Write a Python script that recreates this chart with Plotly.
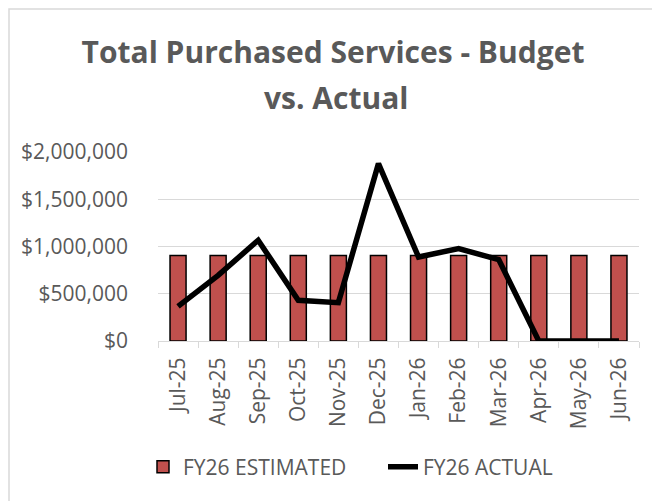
import plotly.graph_objects as go

months = ["Jul-25", "Aug-25", "Sep-25", "Oct-25", "Nov-25", "Dec-25",
          "Jan-26", "Feb-26", "Mar-26", "Apr-26", "May-26", "Jun-26"]
estimated = [905000] * 12
actual = [367000, 695000, 1066000, 430000, 406000, 1877000,
          889000, 978000, 861000, 0, 0, 0]
title_lines = ["Total Purchased Services - Budget", "vs. Actual"]

FONT = "Open Sans"
GRAY = "#595959"
GRID = "#D9D9D9"

fig = go.Figure()
fig.add_trace(go.Bar(
    x=months, y=estimated, name="FY26 ESTIMATED",
    marker=dict(color="#C0504D", line=dict(color="black", width=1.5)),
    width=0.4,
))
fig.add_trace(go.Scatter(
    x=months, y=actual, name="FY26 ACTUAL", mode="lines",
    line=dict(color="black", width=5.5),
))

# the page has an 8px body margin; work in page pixels and shift
OFF = 8
W, H = 660 - OFF, 501 - OFF
L, R, T, B = 158 - OFF, 21, 152 - OFF, 160
pw = W - L - R
ph = H - T - B

def px_x(x):
    return (x - OFF - L) / pw

def px_y(y):
    return (H - B - (y - OFF)) / ph

fig.update_layout(
    width=W, height=H,
    margin=dict(l=L, r=R, t=T, b=B, autoexpand=False),
    paper_bgcolor="white", plot_bgcolor="white",
    font=dict(family=FONT, color=GRAY, size=21),
    title=dict(
        text="<b>" + title_lines[0] + "</b>",
        x=(333 - OFF) / W, xanchor="center", xref="container",
        y=1 - (52 - OFF) / H, yanchor="middle", yref="container",
        font=dict(family=FONT, size=30, color=GRAY),
    ),
    annotations=[dict(
        text="<b>" + title_lines[1] + "</b>", showarrow=False,
        xref="paper", yref="paper", x=px_x(336), y=px_y(97),
        xanchor="center", yanchor="middle",
        font=dict(family=FONT, size=30, color=GRAY),
    )],
    showlegend=True,
    legend=dict(
        orientation="h", x=px_x(143), xanchor="left",
        y=px_y(467), yanchor="middle",
        font=dict(family=FONT, size=21, color=GRAY),
        bgcolor="rgba(0,0,0,0)",
        entrywidth=195, entrywidthmode="pixels",
    ),
    xaxis=dict(
        type="category", tickangle=-90, tickson="boundaries",
        ticks="outside", ticklen=6, tickcolor=GRID, tickwidth=1,
        showline=True, linecolor=GRID, linewidth=1,
        showgrid=False, tickfont=dict(size=21, color=GRAY),
        ticklabelstandoff=7,
    ),
    yaxis=dict(
        range=[0, 2000000], tickvals=[0, 500000, 1000000, 1500000, 2000000],
        tickformat="$,", showgrid=True, gridcolor=GRID, gridwidth=1,
        zeroline=False, showline=False, ticks="",
        tickfont=dict(size=21, color=GRAY), ticklabelstandoff=29,
    ),
    shapes=[dict(
        type="rect", xref="paper", yref="paper",
        x0=px_x(9), x1=px_x(720), y0=px_y(560), y1=px_y(9),
        line=dict(color=GRID, width=1.5), fillcolor="rgba(0,0,0,0)",
        layer="below",
    )],
)

fig.write_html("out.html")
